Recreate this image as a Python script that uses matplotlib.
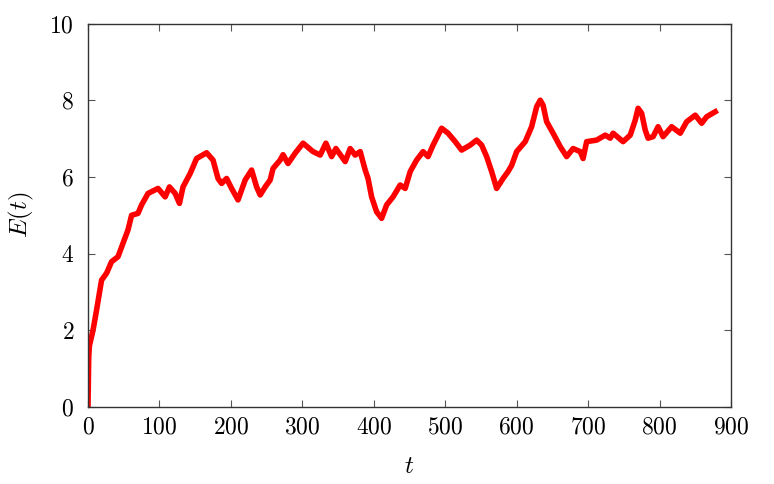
import matplotlib
matplotlib.use('Agg')
import matplotlib.pyplot as plt

plt.rcParams['mathtext.fontset'] = 'cm'
plt.rcParams['font.family'] = 'serif'
plt.rcParams['font.serif'] = ['cmr10', 'DejaVu Serif']

# values
t = [0, 1, 2, 7, 12, 19, 26, 33, 42, 49, 56, 61, 70, 75, 84, 98, 108, 114,
     122, 128, 133, 143, 152, 166, 175, 182, 187, 194, 201, 210, 220, 229,
     236, 241, 248, 255, 259, 269, 273, 280, 290, 301, 315, 325, 333, 341,
     347, 360, 367, 374, 381, 388, 392, 397, 404, 411, 418, 427, 437, 444,
     451, 460, 469, 476, 483, 495, 504, 514, 523, 535, 544, 551, 558, 565,
     572, 581, 588, 593, 600, 612, 621, 628, 633, 637, 642, 651, 661, 670,
     679, 689, 693, 698, 712, 724, 731, 735, 749, 759, 766, 770, 775, 780,
     784, 791, 798, 805, 817, 829, 838, 850, 859, 866, 878]
E = [0.0, 1.3, 1.6, 2.0, 2.53, 3.31, 3.49, 3.79, 3.92, 4.27, 4.62, 5.0,
     5.05, 5.27, 5.57, 5.70, 5.48, 5.74, 5.57, 5.31, 5.74, 6.09, 6.48, 6.63,
     6.44, 5.96, 5.83, 5.96, 5.70, 5.40, 5.92, 6.18, 5.74, 5.53, 5.74, 5.92,
     6.22, 6.44, 6.58, 6.35, 6.62, 6.88, 6.66, 6.57, 6.88, 6.53, 6.74, 6.40,
     6.74, 6.57, 6.66, 6.18, 5.96, 5.48, 5.09, 4.92, 5.27, 5.48, 5.79, 5.70,
     6.14, 6.44, 6.66, 6.53, 6.83, 7.27, 7.14, 6.92, 6.70, 6.83, 6.96, 6.83,
     6.53, 6.14, 5.70, 5.96, 6.14, 6.30, 6.66, 6.92, 7.31, 7.83, 8.0, 7.87,
     7.44, 7.14, 6.79, 6.53, 6.74, 6.66, 6.48, 6.92, 6.96, 7.09, 7.01, 7.14,
     6.92, 7.09, 7.48, 7.79, 7.66, 7.22, 7.01, 7.05, 7.31, 7.05, 7.31, 7.14,
     7.44, 7.61, 7.40, 7.57, 7.70]

xticks = [0, 100, 200, 300, 400, 500, 600, 700, 800, 900]
yticks = [0, 2, 4, 6, 8, 10]

fig = plt.figure(figsize=(7.74, 4.84), dpi=100)
ax = fig.add_axes([0.1137, 0.159, 0.8307, 0.7924])

ax.plot(t, E, color='#ff0000', linewidth=4.0, solid_joinstyle='round')

ax.set_xlim(0, 900)
ax.set_ylim(0, 10)
ax.set_xticks(xticks)
ax.set_xticklabels(['$%d$' % v for v in xticks])
ax.set_yticks(yticks)
ax.set_yticklabels(['$%d$' % v for v in yticks])
ax.tick_params(direction='in', length=5, width=0.8, top=True, right=True,
               labelsize=17, color='#555555')
ax.tick_params(axis='x', pad=7)
ax.tick_params(axis='y', pad=10)
for s in ax.spines.values():
    s.set_color('#333333')
    s.set_linewidth(1.0)

ax.set_xlabel('$t$', fontsize=18, labelpad=12)
ax.set_ylabel('$E(t)$', fontsize=18, labelpad=10)

fig.savefig('out.png', dpi=100)
